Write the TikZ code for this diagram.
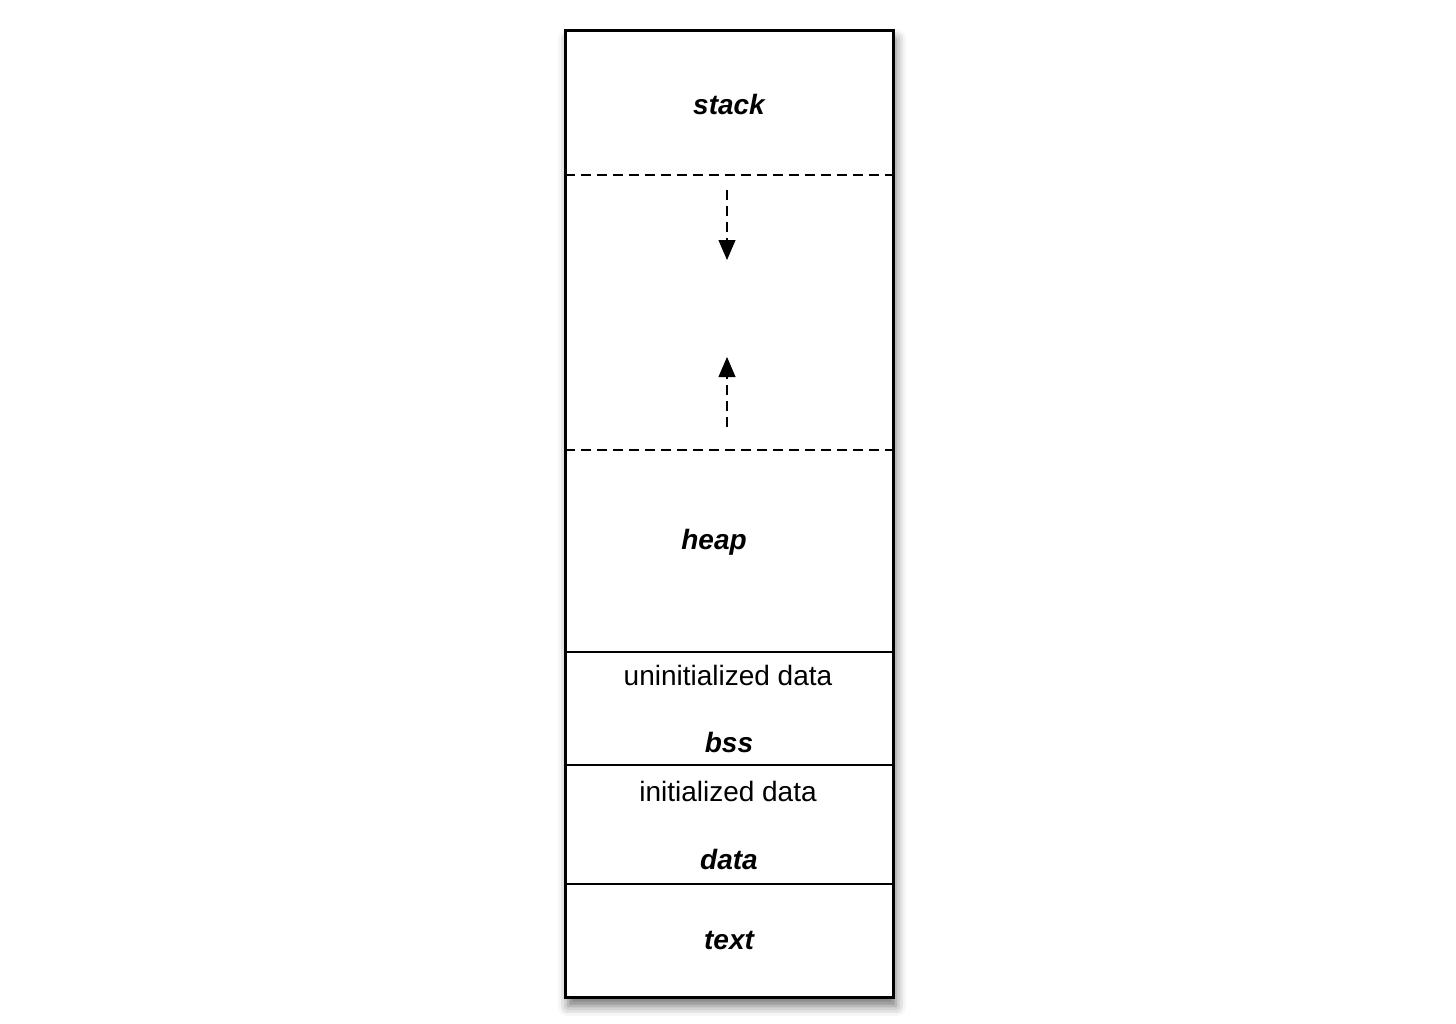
\documentclass[tikz,border=0pt]{standalone}
\usepackage{fontspec}
\setmainfont{Liberation Sans}
\usepackage{tikz}
\usetikzlibrary{arrows.meta, positioning, shadows.blur}

\tikzset{
	seg/.style={font=\fontsize{14}{17}\selectfont\bfseries\itshape},
	note/.style={font=\fontsize{14}{17}\selectfont},
	split/.style={dashed, dash pattern=on 5pt off 3pt, line width=1.2pt},
	growarrow/.style={split, -{Triangle[length=10pt,width=8.5pt,fill=black,line width=0.4pt]}}
}

\begin{document}
\begin{tikzpicture}[x=0.5pt, y=-0.5pt]
			\useasboundingbox (0,0) rectangle (1456,1023);
			% memory box
			\draw[line width=1.5pt, fill=white, blur shadow={shadow xshift=1.5pt, shadow yshift=-4.5pt, shadow blur radius=5pt, shadow opacity=55}] (565,30) rectangle (893,997);
			\draw[split] (565,175) -- (893,175);
			\draw[split] (565,450) -- (893,450);
			\foreach \y in {652,765,884}{
				\draw[line width=1.1pt] (565,\y) -- (893,\y);
			}
			% labels
			\node[seg] (stack) at (729,104) {stack};
			\node[seg] (heap) at (714,542) {heap};
			\node[note] (uninit) at (728,675) {uninitialized data};
			\node[seg] (bss) at (729,742) {bss};
			\node[note] (init) at (728,791) {initialized data};
			\node[seg] (data) at (729,859) {data};
			\node[seg] (text) at (729,940) {text};
			% growth arrows
			\coordinate (sdown0) at (727,190);
			\coordinate (sdown1) at (727,260);
			\coordinate (hup0) at (727,427);
			\coordinate (hup1) at (727,357);
			\draw[growarrow] (sdown0) -- (sdown1);
			\draw[growarrow] (hup0) -- (hup1);
		\end{tikzpicture}
\end{document}
